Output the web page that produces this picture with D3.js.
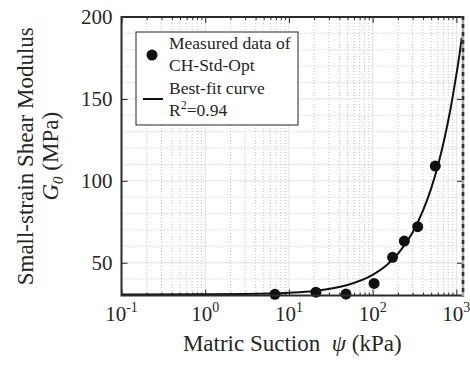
<!DOCTYPE html>
<html>
<head>
<meta charset="utf-8">
<script src="https://cdn.jsdelivr.net/npm/d3@7"></script>
<style>
  body { margin: 0; background: #fff; }
  text { font-family: "Liberation Serif", "Times New Roman", serif; fill: #262626; }
</style>
</head>
<body>
<svg id="chart" width="470" height="366"></svg>
<script>
// measured points
var measuredSuction = [6.8, 21, 48, 104, 173, 239, 345, 560];
var measuredG0 = [30.7, 32, 30.9, 37.4, 53.3, 63.2, 72, 109];

// best-fit curve
var fitSuction = [0.1, 1, 3, 10, 20, 50, 100, 150, 200, 300, 400, 500, 600, 700, 800, 900, 1000, 1100, 1160];
var fitG0 = [30.6, 30.7, 30.9, 31.7, 32.8, 36.4, 42.6, 48.9, 55.4, 68.5, 81.9, 95.4, 109.1, 122.9, 136.8, 150.8, 164.8, 178.5, 187.4];

var xMajorTicks = [0.1, 1, 10, 100, 1000];
var xTickExponents = ["-1", "0", "1", "2", "3"];
var yTicks = [50, 100, 150, 200];

var svg = d3.select("#chart"),
    pLeft = 121.5, pRight = 463, pTop = 17, pBottom = 295.5;

var x = d3.scaleLog().domain([0.1, 1200]).range([pLeft, pRight]);
var y = d3.scaleLinear().domain([30, 200]).range([pBottom, pTop]);

// minor positions
var xMinor = [];
[0.1, 1, 10, 100].forEach(function (d) {
    for (var k = 2; k <= 9; k++) xMinor.push(d * k);
});
var yMinor = d3.range(40, 200, 10).filter(function (v) { return v % 50 !== 0; });

// grid
var grid = svg.append("g");
grid.selectAll(".xminor").data(xMinor).enter().append("line")
    .attr("x1", function (d) { return x(d); }).attr("x2", function (d) { return x(d); })
    .attr("y1", pTop).attr("y2", pBottom)
    .attr("stroke", "#c4c4c4").attr("stroke-dasharray", "1,2");
grid.selectAll(".yminor").data(yMinor).enter().append("line")
    .attr("x1", pLeft).attr("x2", pRight)
    .attr("y1", function (d) { return y(d); }).attr("y2", function (d) { return y(d); })
    .attr("stroke", "#c4c4c4").attr("stroke-dasharray", "1,2");
grid.selectAll(".xmajor").data(xMajorTicks.slice(1)).enter().append("line")
    .attr("x1", function (d) { return x(d); }).attr("x2", function (d) { return x(d); })
    .attr("y1", pTop).attr("y2", pBottom)
    .attr("stroke", "#e2e2e2");
grid.selectAll(".ymajor").data([50, 100, 150]).enter().append("line")
    .attr("x1", pLeft).attr("x2", pRight)
    .attr("y1", function (d) { return y(d); }).attr("y2", function (d) { return y(d); })
    .attr("stroke", "#e2e2e2");

// ticks (inward, on all four sides)
function ticks(axis, tx, ty) {
    var g = svg.append("g").attr("transform", "translate(" + tx + "," + ty + ")").call(axis);
    g.select(".domain").remove();
    g.selectAll("line").attr("stroke", "#262626");
    g.selectAll("text").remove();
}
ticks(d3.axisBottom(x).tickValues(xMajorTicks).tickSizeInner(-6).tickSizeOuter(0), 0, pBottom);
ticks(d3.axisBottom(x).tickValues(xMinor).tickSizeInner(-3).tickSizeOuter(0), 0, pBottom);
ticks(d3.axisTop(x).tickValues(xMajorTicks).tickSizeInner(-6).tickSizeOuter(0), 0, pTop);
ticks(d3.axisTop(x).tickValues(xMinor).tickSizeInner(-3).tickSizeOuter(0), 0, pTop);
ticks(d3.axisLeft(y).tickValues(yTicks).tickSizeInner(-6).tickSizeOuter(0), pLeft, 0);
ticks(d3.axisRight(y).tickValues(yTicks).tickSizeInner(-6).tickSizeOuter(0), pRight, 0);

// tick labels
svg.selectAll(".ylab").data(yTicks).enter().append("text")
    .attr("x", pLeft - 9).attr("y", function (d) { return y(d); })
    .attr("dy", "0.35em").attr("text-anchor", "end")
    .style("font-size", "21px").text(function (d) { return d; });

var xl = svg.selectAll(".xlab").data(xMajorTicks).enter().append("text")
    .attr("x", function (d) { return x(d); }).attr("y", 321)
    .attr("text-anchor", "middle").style("font-size", "21px");
xl.append("tspan").text("10");
xl.append("tspan").attr("dy", -9).style("font-size", "14px")
    .text(function (d, i) { return xTickExponents[i]; });

// curve
var line = d3.line()
    .x(function (d, i) { return x(fitSuction[i]); })
    .y(function (d) { return y(d); })
    .curve(d3.curveMonotoneX);
svg.append("path").datum(fitG0)
    .attr("d", line).attr("fill", "none")
    .attr("stroke", "#111").attr("stroke-width", 2);

// points
svg.selectAll(".pt").data(measuredG0).enter().append("circle")
    .attr("cx", function (d, i) { return x(measuredSuction[i]); })
    .attr("cy", function (d) { return y(d); })
    .attr("r", 5.5).attr("fill", "#111");

// box
svg.append("path")
    .attr("d", "M" + pRight + "," + pTop + "H" + pLeft + "V" + pBottom + "H" + pRight)
    .attr("fill", "none").attr("stroke", "#2b2b2b").attr("stroke-width", 2);
svg.append("line")
    .attr("x1", pRight).attr("x2", pRight).attr("y1", pTop - 1).attr("y2", pBottom + 1)
    .attr("stroke", "#aaa").attr("stroke-width", 2.5);
svg.append("line")
    .attr("x1", pRight).attr("x2", pRight).attr("y1", pTop - 1).attr("y2", pBottom + 1)
    .attr("stroke", "#333").attr("stroke-width", 2.5).attr("stroke-dasharray", "4,4");

// axis titles
var xt = svg.append("text")
    .attr("x", (pLeft + pRight) / 2).attr("y", 351)
    .attr("text-anchor", "middle").style("font-size", "23px").style("white-space", "pre");
xt.append("tspan").text("Matric Suction  ");
xt.append("tspan").style("font-style", "italic").text("ψ");
xt.append("tspan").text(" (kPa)");

var yt = svg.append("g").attr("transform", "translate(0," + (pTop + pBottom) / 2 + ") rotate(-90)");
yt.append("text").attr("x", 0).attr("y", 33).attr("text-anchor", "middle")
    .style("font-size", "23px").text("Small-strain Shear Modulus");
var yt2 = yt.append("text").attr("x", 0).attr("y", 58).attr("text-anchor", "middle")
    .style("font-size", "23px");
yt2.append("tspan").style("font-style", "italic").text("G");
yt2.append("tspan").style("font-style", "italic").style("font-size", "15px").attr("dy", 5).text("0");
yt2.append("tspan").attr("dy", -5).text(" (MPa)");

// legend
var lg = svg.append("g");
lg.append("rect").attr("x", 136).attr("y", 32).attr("width", 162).attr("height", 93)
    .attr("fill", "#fff").attr("stroke", "#262626").attr("stroke-width", 1);
lg.append("circle").attr("cx", 152).attr("cy", 55).attr("r", 5.5).attr("fill", "#111");
lg.append("line").attr("x1", 143).attr("x2", 163).attr("y1", 99).attr("y2", 99)
    .attr("stroke", "#111").attr("stroke-width", 2);
var legendLines = ["Measured data of", "CH-Std-Opt", "Best-fit curve"];
lg.selectAll(".lt").data(legendLines).enter().append("text")
    .attr("x", 169).attr("y", function (d, i) { return 49 + i * 22.3; })
    .style("font-size", "17.5px").text(function (d) { return d; });
var r2 = lg.append("text").attr("x", 169).attr("y", 116).style("font-size", "17.5px");
r2.append("tspan").text("R");
r2.append("tspan").attr("dy", -7).style("font-size", "12px").text("2");
r2.append("tspan").attr("dy", 7).text("=0.94");
</script>
</body>
</html>
